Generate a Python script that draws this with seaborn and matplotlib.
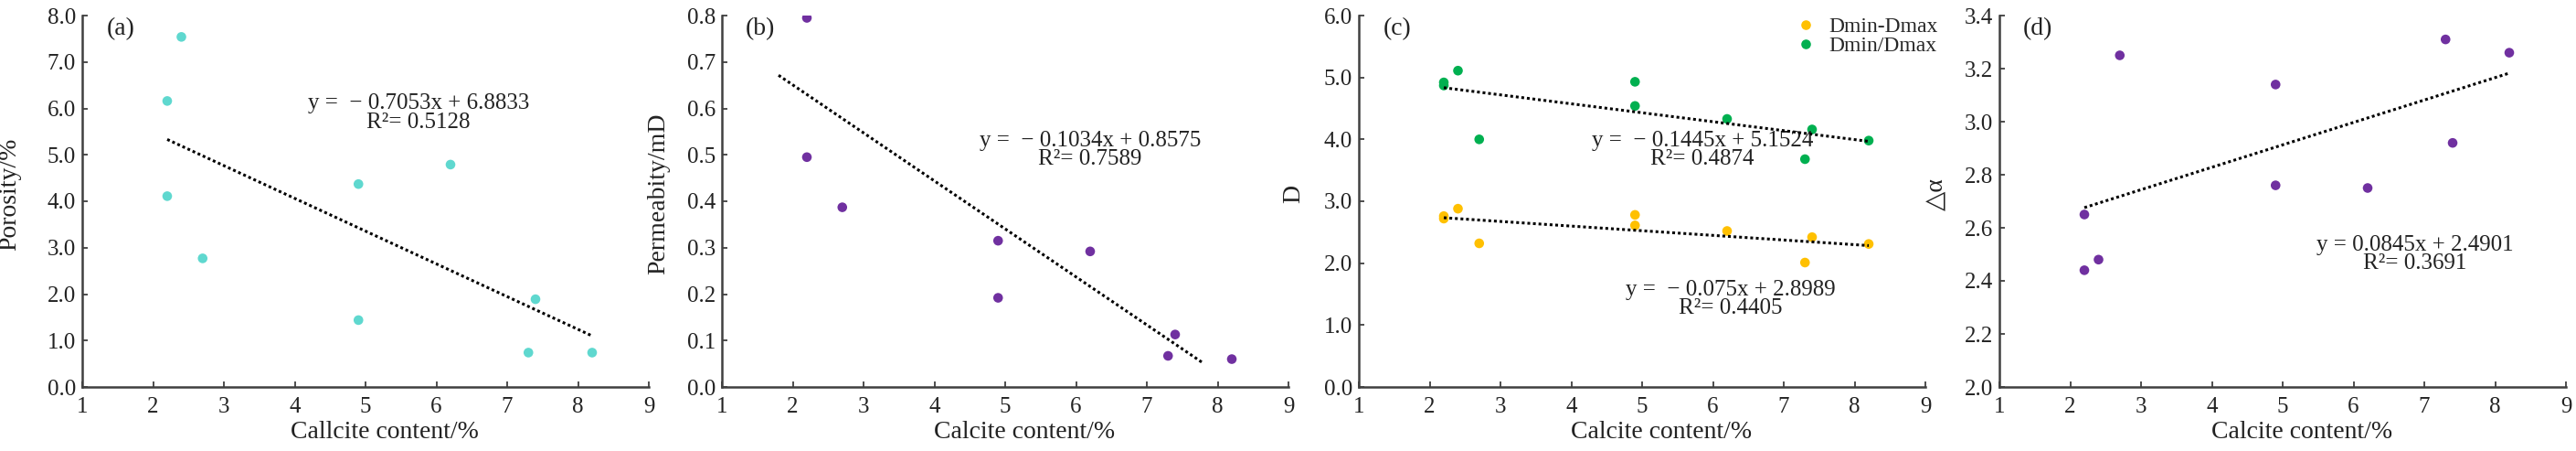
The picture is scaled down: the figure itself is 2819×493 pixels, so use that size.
import matplotlib
matplotlib.use("Agg")
import matplotlib.pyplot as plt
import matplotlib.ticker as ticker
import numpy as np
import pandas as pd
import seaborn as sns

# calcite content (%) of the ten samples
CALCITE = [2.2, 2.2, 2.4, 2.7, 4.9, 4.9, 6.2, 7.3, 7.4, 8.2]

# (a) porosity
POROSITY = [6.16, 4.11, 7.54, 2.77, 4.37, 1.44, 4.79, 0.74, 1.89, 0.74]
FIT_A = [-0.7053, 6.8833]
TREND_X_A = [2.2, 8.2]

# (b) permeability (sample at 2.4 is off the scale)
CALCITE_B = [2.2, 2.2, 2.7, 4.9, 4.9, 6.2, 7.3, 7.4, 8.2]
PERM = [0.795, 0.495, 0.387, 0.315, 0.192, 0.292, 0.067, 0.113, 0.060]
FIT_B = [-0.1034, 0.8575]
TREND_X_B = [1.8, 7.8]

# (c) fractal dimension
D_DIFF = [2.72, 2.76, 2.88, 2.32, 2.78, 2.61, 2.52, 2.01, 2.42, 2.31]   # Dmin-Dmax
D_RATIO = [4.87, 4.92, 5.11, 4.00, 4.93, 4.54, 4.33, 3.68, 4.16, 3.98]  # Dmin/Dmax
FIT_C_DIFF = [-0.075, 2.8989]
FIT_C_RATIO = [-0.1445, 5.1524]
TREND_X_C = [2.2, 8.2]

# (d) delta alpha
DALPHA = [2.65, 2.44, 2.48, 3.25, 3.14, 2.76, 2.75, 3.31, 2.92, 3.26]
FIT_D = [0.0845, 2.4901]
TREND_X_D = [2.2, 8.2]

TURQ = "#5fd8cf"
PURPLE = "#7030a0"
ORANGE = "#ffc000"
GREEN = "#00b050"
AXCOL = "#404040"
TXT = "#222222"

sns.set_style("ticks")
plt.rcParams["font.family"] = ["Liberation Serif", "DejaVu Sans"]

fig = plt.figure(figsize=(28.19, 4.93), dpi=100)
W, H = 2819, 493
lefts = [90, 790, 1487, 2188]
axes = [fig.add_axes([l / W, 70 / H, 620 / W, 406 / H]) for l in lefts]


def trend(ax, xs, fit):
    xs = np.array(xs)
    ys = np.polyval(fit, xs)
    sns.lineplot(x=xs, y=ys, ax=ax, color="black", lw=2.2,
                 linestyle=(0, (1, 1)), zorder=5, legend=False)


def eqtext(ax, x, y, fit, r2):
    a, b = fit
    if a < 0:
        s = f"y =  − {abs(a):g}x + {b:g}\nR²= {r2}"
    else:
        s = f"y = {a:g}x + {b:g}\nR²= {r2}"
    ax.text(x, y, s, fontsize=18, ha="center", va="center",
            multialignment="center", linespacing=0.9, color=TXT)


def style(ax, ylim, ystep, ylabel, xlabel, tag, ylab_x):
    ax.set_xlim(1, 9)
    ax.set_ylim(*ylim)
    ax.xaxis.set_major_locator(ticker.MultipleLocator(1))
    ax.yaxis.set_major_locator(ticker.MultipleLocator(ystep))
    ax.yaxis.set_major_formatter(ticker.FormatStrFormatter("%.1f"))
    sns.despine(ax=ax)
    for sp in ["left", "bottom"]:
        ax.spines[sp].set_linewidth(1.8)
        ax.spines[sp].set_color(AXCOL)
    ax.tick_params(axis="both", direction="in", length=4, width=1.3,
                   color=AXCOL, labelsize=18, labelcolor=TXT)
    ax.tick_params(axis="x", pad=8)
    ax.tick_params(axis="y", pad=5)
    ax.set_xlabel(xlabel, fontsize=20, color=TXT)
    ax.set_ylabel(ylabel, fontsize=20, color=TXT)
    ax.xaxis.set_label_coords(0.534, -0.09)
    ax.yaxis.set_label_coords(ylab_x, 0.52)
    ax.text(0.068, 0.963, tag, transform=ax.transAxes, fontsize=20,
            ha="center", va="center", color=TXT)


MS = 58

# (a)
ax = axes[0]
sns.scatterplot(x=CALCITE, y=POROSITY, ax=ax, color=TURQ, s=MS, edgecolor="none")
trend(ax, TREND_X_A, FIT_A)
eqtext(ax, 5.75, 5.9, FIT_A, "0.5128")
style(ax, (0, 8), 1.0, "Porosity/%", "Callcite content/%", "(a)", -0.108)

# (b)
ax = axes[1]
sns.scatterplot(x=CALCITE_B, y=PERM, ax=ax, color=PURPLE, s=MS, edgecolor="none")
trend(ax, TREND_X_B, FIT_B)
eqtext(ax, 6.2, 0.51, FIT_B, "0.7589")
style(ax, (0, 0.8), 0.1, "Permeabity/mD", "Calcite content/%", "(b)", -0.092)

# (c)
ax = axes[2]
dfc = pd.DataFrame({
    "calcite": CALCITE * 2,
    "D": D_DIFF + D_RATIO,
    "series": ["Dmin-Dmax"] * len(D_DIFF) + ["Dmin/Dmax"] * len(D_RATIO),
})
sns.scatterplot(data=dfc, x="calcite", y="D", hue="series", ax=ax,
                palette={"Dmin-Dmax": ORANGE, "Dmin/Dmax": GREEN},
                s=MS, edgecolor="none")
trend(ax, TREND_X_C, FIT_C_RATIO)
trend(ax, TREND_X_C, FIT_C_DIFF)
eqtext(ax, 5.85, 3.83, FIT_C_RATIO, "0.4874")
eqtext(ax, 6.25, 1.42, FIT_C_DIFF, "0.4405")
style(ax, (0, 6), 1.0, "D", "Calcite content/%", "(c)", -0.095)
sns.move_legend(ax, "upper left", bbox_to_anchor=(0.735, 1.02), title=None,
                frameon=False, fontsize=17, handletextpad=0.1,
                labelspacing=0.0, borderaxespad=0, markerscale=1.0)

# (d)
ax = axes[3]
sns.scatterplot(x=CALCITE, y=DALPHA, ax=ax, color=PURPLE, s=MS, edgecolor="none")
trend(ax, TREND_X_D, FIT_D)
eqtext(ax, 6.87, 2.50, FIT_D, "0.3691")
style(ax, (2.0, 3.4), 0.2, "△α", "Calcite content/%", "(d)", -0.089)

fig.savefig("out.png", dpi=100, facecolor="white")
